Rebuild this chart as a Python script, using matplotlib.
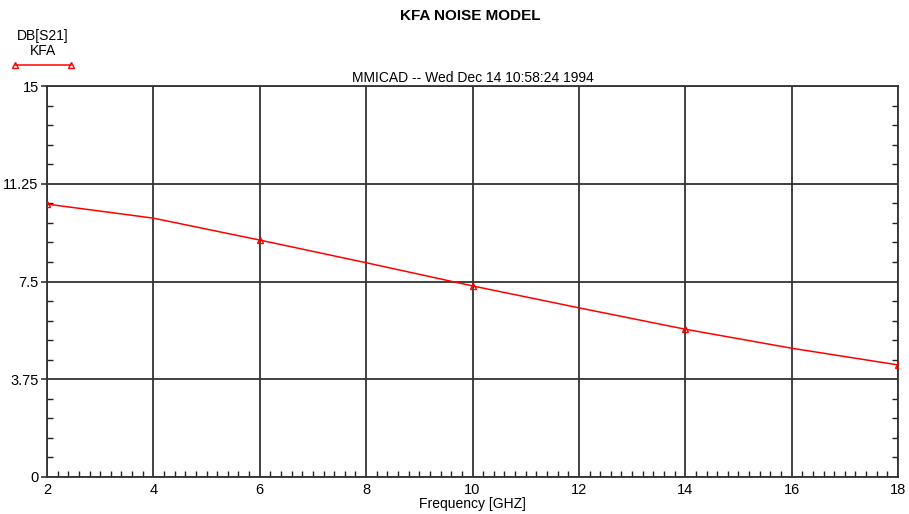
import matplotlib
matplotlib.use("Agg")
import matplotlib.pyplot as plt
from matplotlib.ticker import MultipleLocator
from matplotlib.lines import Line2D

plt.rcParams['font.family'] = ['Liberation Sans', 'DejaVu Sans']

# data
freq = [2, 4, 6, 8, 10, 12, 14, 16, 18]
s21_db = [10.47, 9.93, 9.09, 8.22, 7.33, 6.49, 5.67, 4.94, 4.30]
marker_freq = [2, 6, 10, 14, 18]
marker_db = [10.47, 9.09, 7.33, 5.67, 4.30]

x_ticks = [2, 4, 6, 8, 10, 12, 14, 16, 18]
y_ticks = [0, 3.75, 7.5, 11.25, 15]
y_labels = ['0', '3.75', '7.5', '11.25', '15']

fig = plt.figure(figsize=(9.09, 5.14), dpi=100)
ax = fig.add_axes([47 / 909, 37 / 514, 851 / 909, 391 / 514])

ax.plot(freq, s21_db, color='red', lw=1.1, zorder=3)
ax.plot(marker_freq, marker_db, ls='none', marker='^', ms=5, mfc='none',
        mec='red', mew=1.0, zorder=4)

ax.set_xlim(2, 18)
ax.set_ylim(0, 15)
ax.set_xticks(x_ticks)
ax.set_yticks(y_ticks)
ax.set_yticklabels(y_labels)
ax.xaxis.set_minor_locator(MultipleLocator(0.2))
ax.yaxis.set_minor_locator(MultipleLocator(0.75))
ax.grid(True, which='major', color='#333333', lw=1.3)
ax.tick_params(axis='x', which='major', length=0, labelsize=10.5, pad=4)
ax.tick_params(axis='y', which='major', direction='out', length=4, width=1.2,
               color='#333333', labelsize=10.5, pad=2)
ax.tick_params(which='minor', direction='in', length=4, width=1,
               color='#222222', left=True, right=True, bottom=True, top=False)
for sp in ax.spines.values():
    sp.set_color('#333333')
    sp.set_linewidth(1.3)

ax.set_xlabel('Frequency [GHZ]', fontsize=10, labelpad=0)
ax.set_title('MMICAD -- Wed Dec 14 10:58:24 1994', fontsize=10, pad=3)
fig.text(0.517, 0.968, 'KFA NOISE MODEL', ha='center', va='center',
         fontsize=11, fontweight='bold')

# legend block at top left
fig.text(43 / 909, 1 - 36 / 514, 'DB[S21]', ha='center', va='center', fontsize=10)
fig.text(43 / 909, 1 - 51 / 514, 'KFA', ha='center', va='center', fontsize=10)
fig.add_artist(Line2D([15 / 909, 71 / 909], [1 - 65 / 514, 1 - 65 / 514],
                      color='red', lw=1.1, marker='^', ms=5, mfc='none',
                      mec='red', transform=fig.transFigure))

fig.savefig('out.png', dpi=100)
